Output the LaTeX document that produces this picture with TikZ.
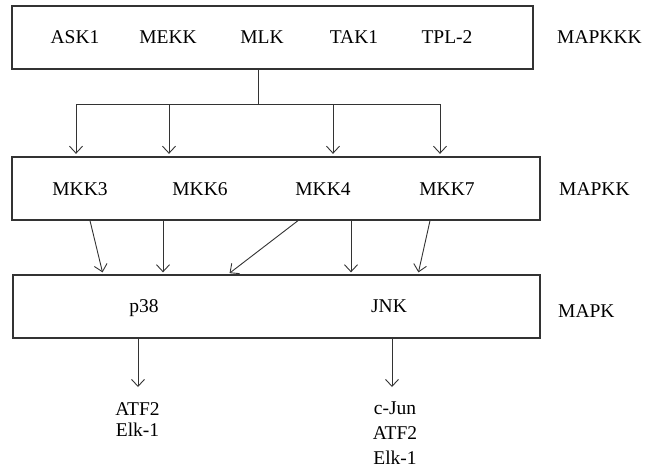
\documentclass[tikz,border=0pt]{standalone}
\usepackage{fontspec}
\setmainfont{Liberation Serif}
\usetikzlibrary{arrows.meta}
\tikzstyle{level}=[draw=black!80,line width=1.3pt,minimum height=63pt,inner sep=0pt]
\tikzstyle{edge} = [draw,black!80,line width=0.9pt,-{Straight Barb[length=7pt,width=13pt]}]
\tikzstyle{plainedge} = [draw,black!80,line width=0.9pt]
\tikzstyle{kinase}=[font=\fontsize{19.5}{22}\selectfont,text height=13pt,text depth=4pt,inner sep=0pt]

\begin{document}
\begin{tikzpicture}[x=1pt,y=-1pt]
    \useasboundingbox (0,0) rectangle (646,469);
    % The three levels of the cascade
    \node[level,minimum width=521pt] (kkk) at (272.5,37.5) {};
    \node[level,minimum width=528pt] (kk) at (276,188.5) {};
    \node[level,minimum width=527pt] (k) at (276.5,306.5) {};

    % Kinases in each box
    \foreach \pos/\name/\lbl in {{(75,39)/ask/ASK1},{(168,39)/mekk/MEKK},{(262,39)/mlk/MLK},
        {(354,39)/tak/TAK1},{(447,39)/tpl/TPL-2}}
        \node[kinase] (\name) at \pos {\lbl};
    \foreach \pos/\name/\lbl in {{(80,191)/mkkthree/MKK3},{(200,191)/mkksix/MKK6},
        {(323,191)/mkkfour/MKK4},{(447,191)/mkkseven/MKK7}}
        \node[kinase] (\name) at \pos {\lbl};
    \foreach \pos/\name/\lbl in {{(144,308)/pthirtyeight/p38},{(389,308)/jnk/JNK}}
        \node[kinase] (\name) at \pos {\lbl};

    % Level names on the right
    \node[kinase,anchor=west] (lkkk) at (557,39) {MAPKKK};
    \node[kinase,anchor=west] (lkk) at (559,191) {MAPKK};
    \node[kinase,anchor=west] (lk) at (558,313) {MAPK};

    % Targets
    \foreach \pos/\name/\lbl in {{(137.5,410.5)/atfl/ATF2},{(137.5,432)/elkl/Elk-1},
        {(395,410)/cjun/c-Jun},{(395,435)/atfr/ATF2},{(395,460)/elkr/Elk-1}}
        \node[kinase] (\name) at \pos {\lbl};

    % MAPKKK to MAPKK
    \coordinate (hub) at (258,104);
    \coordinate (bl) at (76,104);
    \coordinate (br) at (440,104);
    \path[plainedge] (kkk.south -| hub) -- (hub);
    \path[plainedge] (bl) -- (br);
    \foreach \x in {76,169,333,440}
        \path[edge,shorten >=2.5pt] (\x,0 |- bl) -- (\x,0 |- kk.north);

    % MAPKK to MAPK
    \foreach \sx/\ex in {90/103,163/163,298/228,351/351,430/418}
        \path[edge,shorten >=2pt] (\sx,0 |- kk.south) -- (\ex,0 |- k.north);

    % MAPK to targets
    \coordinate (pend) at (138,387);
    \coordinate (jend) at (392,387);
    \path[edge] (pend |- k.south) -- (pend);
    \path[edge] (jend |- k.south) -- (jend);
\end{tikzpicture}
\end{document}
